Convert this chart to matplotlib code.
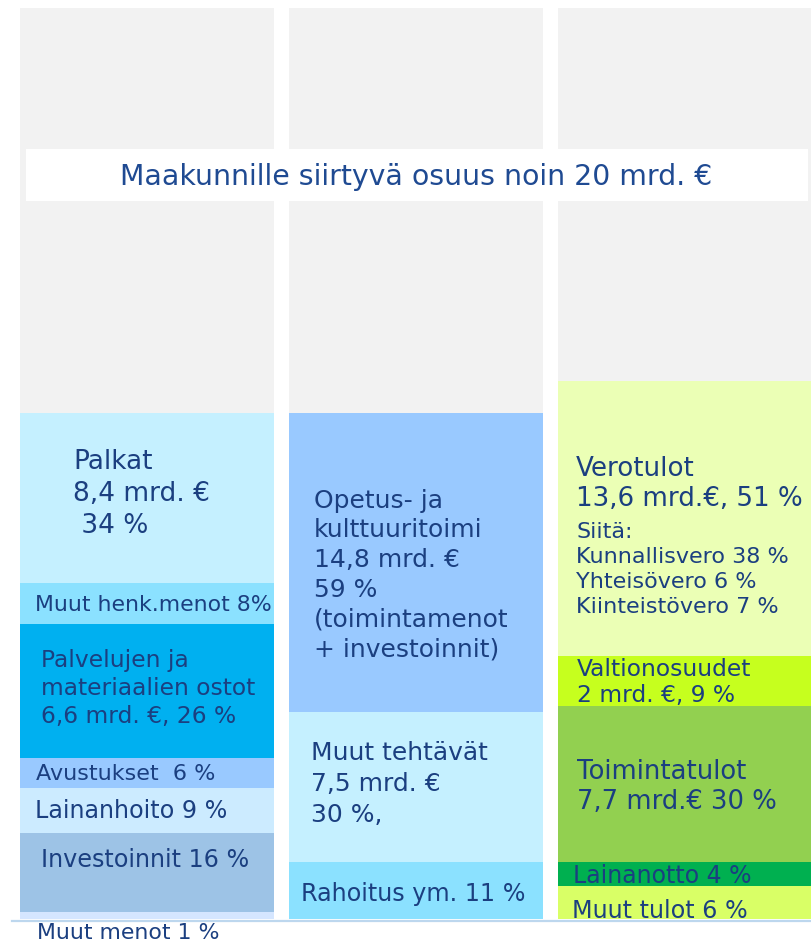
import matplotlib
matplotlib.use('Agg')
import matplotlib.pyplot as plt
from matplotlib.patches import Rectangle

plt.rcParams['font.family'] = ['DejaVu Sans']

# block sizes in mrd. €, listed top block first
menot_labels = ['Palkat\n8,4 mrd. €\n 34 %', 'Muut henk.menot 8%',
                'Palvelujen ja\nmateriaalien ostot\n6,6 mrd. €, 26 %',
                'Avustukset  6 %', 'Lainanhoito 9 %', 'Investoinnit 16 %', 'Muut menot 1 %']
menot = [8.4, 2.0, 6.6, 1.5, 2.2, 3.9, 0.35]
menot_colors = ['#C5F0FF', '#8BE1FF', '#00B0F0', '#99C9FF', '#CCEBFF', '#9DC3E6', '#D5E6FF']

tehtavat_labels = ['Opetus- ja\nkulttuuritoimi\n14,8 mrd. €\n59 %\n(toimintamenot\n+ investoinnit)',
                   'Muut tehtävät\n7,5 mrd. €\n30 %,', 'Rahoitus ym. 11 %']
tehtavat = [14.75, 7.4, 2.8]
tehtavat_colors = ['#99C9FF', '#C5F0FF', '#8BE1FF']

tulot_labels = ['Verotulot\n13,6 mrd.€, 51 %', 'Valtionosuudet\n2 mrd. €, 9 %',
                'Toimintatulot\n7,7 mrd.€ 30 %', 'Lainanotto 4 %', 'Muut tulot 6 %']
tulot = [13.55, 2.45, 7.7, 1.15, 1.65]
tulot_colors = ['#EBFFB5', '#C6FF1E', '#92D050', '#00B050', '#D9FF66']
vero_detail = 'Siitä:\nKunnallisvero 38 %\nYhteisövero 6 %\nKiinteistövero 7 %'

total_height = 44.9
banner_text = 'Maakunnille siirtyvä osuus noin 20 mrd. €'

# label placement: (dx px from column left, dy px from block top, fontsize, linespacing)
menot_pos = [(53, 36, 19, 1.3), (15, 12, 15.8, 1.2), (21, 25, 16.8, 1.28), (16, 6, 16, 1.2),
             (15, 11, 17.2, 1.2), (21, 15, 17.2, 1.2), (17, 11, 15.8, 1.2)]
tehtavat_pos = [(25, 76, 18, 1.3), (22, 29, 18, 1.36), (12, 20, 17.2, 1.2)]
tulot_pos = [(18, 75, 18.8, 1.2), (19, 2, 16.8, 1.17), (19, 53, 18.6, 1.19),
             (15, 2, 17, 1.2), (14, 13, 17.2, 1.2)]

txt_color = '#1B3F80'
px_per_unit = 20.3

fig = plt.figure(figsize=(8.11, 9.42), dpi=100)
ax = fig.add_axes([0, 0, 1, 1])
ax.set_xlim(-147 / 269, (811 - 147) / 269)
ax.set_ylim(-23 / px_per_unit, 919 / px_per_unit)
ax.axis('off')

width = 254 / 269
ax.bar([0, 1, 2], [total_height] * 3, width=width, align='center', color='#F2F2F2', zorder=1)

columns = [(menot, menot_colors, menot_labels, menot_pos),
           (tehtavat, tehtavat_colors, tehtavat_labels, tehtavat_pos),
           (tulot, tulot_colors, tulot_labels, tulot_pos)]

for i, (vals, cols, labs, pos) in enumerate(columns):
    top = sum(vals)
    left = i - width / 2
    for v, c, lab, (dx, dy, fs, ls) in zip(vals, cols, labs, pos):
        bottom = top - v
        ax.bar(i, v, bottom=bottom, width=width, color=c, zorder=2)
        ax.annotate(lab, xy=(left, top), xytext=(dx, -dy), textcoords='offset pixels',
                    ha='left', va='top', fontsize=fs, color=txt_color,
                    linespacing=ls, zorder=4, annotation_clip=False)
        top = bottom

# verotulot details in smaller type
ax.annotate(vero_detail, xy=(2 - width / 2, sum(tulot)), xytext=(18, -141),
            textcoords='offset pixels', ha='left', va='top', fontsize=16,
            color=txt_color, linespacing=1.31, zorder=4)

ax.axhline(-1.5 / px_per_unit, xmin=12 / 811, xmax=1, color='#BDD7EE', lw=1.6, zorder=3)

# banner
fig.patches.append(Rectangle((26 / 811, 1 - 201 / 942), 782 / 811, 52 / 942,
                             transform=fig.transFigure, facecolor='white', edgecolor='none', zorder=5))
fig.text(416 / 811, 1 - 177 / 942, banner_text, ha='center', va='center',
         fontsize=20.4, color='#1F4A92', zorder=6)

fig.savefig('out.png', dpi=100)
